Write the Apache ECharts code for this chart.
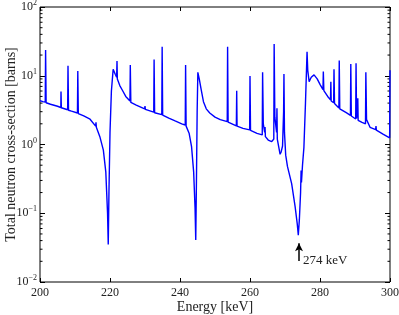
<!DOCTYPE html>
<html><head><meta charset="utf-8">
<script src="https://cdn.jsdelivr.net/npm/echarts@6/dist/echarts.min.js"></script>
<style>html,body{margin:0;padding:0;background:#fff}#c{width:399px;height:315px}</style>
</head><body><div id="c"></div>
<script>
const energy = [200.0,200.8,201.5,201.6,201.75,203,205,205.95,206.0,206.1,207.9,208.0,208.15,209,210.7,210.8,210.95,212.5,214.3,215.9,216.0,216.1,217.1,218.1,218.8,219.3,219.5,219.7,220.0,220.4,220.9,221.5,221.9,222.0,222.1,222.8,223.5,223.6,223.7,224.5,225.7,225.8,225.95,227.5,229.9,230.0,230.1,232.5,232.6,232.75,234.8,234.9,235.05,236.8,238.6,240.5,241.5,241.6,241.75,242.6,243.3,243.9,244.3,244.5,244.7,244.9,245.1,245.5,246.0,246.7,247.5,248.5,250,251.5,253.5,253.6,253.75,256.1,256.2,256.3,258,259.9,260.0,260.15,262,263.5,263.6,263.8,264.2,264.3,264.4,265.2,266.2,266.8,266.9,267.1,267.6,267.7,267.8,268.6,268.9,269.3,269.6,269.7,269.85,270.2,270.7,271.9,272.9,273.5,273.8,274.1,274.45,274.6,274.7,275.0,275.4,275.85,276.3,276.5,276.9,277.5,278.3,279.2,280.0,280.85,280.95,281.1,282.2,283.0,283.1,283.2,283.9,284.0,284.15,285.4,285.5,285.65,287.5,288.7,288.8,288.95,290.2,290.3,290.45,290.7,290.8,290.9,292,293.0,293.1,293.3,294.3,295.9,296.0,296.1,298,299.9,300];
const crossSection = [4.35,4.2,4.15,23.7,4.05,3.85,3.6,3.45,5.9,3.42,3.2,14.0,3.15,3.05,2.87,11.7,2.82,2.6,2.33,1.85,2.1,1.78,1.30,0.83,0.4,0.1,0.035,0.2,1.5,6,12.4,10.5,9.5,16.4,9,7.2,6.2,6.4,6.0,5.0,4.3,14.3,4.1,3.75,3.3,3.63,3.25,2.95,17.3,2.9,2.72,26.5,2.68,2.42,2.2,2.0,1.92,14.3,1.85,1.46,0.93,0.4,0.12,0.041,0.3,3,11.2,9.0,6.5,4.2,3.3,2.87,2.5,2.3,2.15,26.5,2.12,1.87,6.07,1.85,1.72,1.63,9.9,1.6,1.45,1.38,11.2,2.0,1.5,1.8,1.3,1.16,1.1,1.2,29,2.5,1.5,3.36,1.2,0.72,0.78,0.95,3,10.6,1.5,0.7,0.48,0.27,0.124,0.07,0.048,0.08,0.2,0.42,0.28,0.5,0.9,4,22.4,12,8.2,9.5,10.3,9.0,7.5,6.3,11.5,6.1,5.0,4.45,8.2,4.3,4.05,12.4,3.95,3.4,16.6,3.3,2.9,2.65,14.8,2.6,2.35,15.2,2.4,2.3,4.7,2.25,2.1,2.0,11.2,2.3,1.78,1.65,1.86,1.62,1.42,1.25,12];
const xTicks = [200,220,240,260,280,300];
const yTicks = [0.01,0.1,1,10,100];
const annotEnergy = 274;
const annotFrom = 0.0202, annotTo = 0.0365;
const annotText = '274 keV';

const FONT = '"Liberation Serif","DejaVu Serif",serif';
const chart = echarts.init(document.getElementById('c'));
const supLabel = v => {
  const e = Math.round(Math.log10(v));
  return '{b|10}{s|' + (e < 0 ? '\u2212' + (-e) : e) + '}';
};
chart.setOption({
  animation: false,
  grid: {left: 40, right: 9, top: 7, bottom: 33, outerBoundsMode: 'none', containLabel: false,
         show: true, borderColor: '#000', borderWidth: 1, backgroundColor: 'transparent'},
  xAxis: [{
    type: 'value', min: xTicks[0], max: xTicks[xTicks.length - 1], interval: 20,
    axisLine: {show: false}, splitLine: {show: false},
    axisTick: {inside: true, length: 4, lineStyle: {color: '#000'}},
    axisLabel: {color: '#222', fontFamily: FONT, fontSize: 12, margin: 5},
    name: 'Energy [keV]', nameLocation: 'middle', nameGap: 18, nameMoveOverlap: false,
    nameTextStyle: {color: '#222', fontFamily: FONT, fontSize: 14, verticalAlign: 'top'}
  }, {
    type: 'value', position: 'top', min: xTicks[0], max: xTicks[xTicks.length - 1], interval: 20,
    axisLine: {show: false}, splitLine: {show: false},
    axisTick: {inside: true, length: 4, lineStyle: {color: '#000'}},
    axisLabel: {show: false}
  }],
  yAxis: [{
    type: 'log', logBase: 10, min: yTicks[0], max: yTicks[yTicks.length - 1],
    axisLine: {show: false}, splitLine: {show: false},
    axisTick: {inside: true, length: 5, lineStyle: {color: '#000'}},
    axisLabel: {color: '#222', fontFamily: FONT, margin: 3, formatter: supLabel,
      rich: {b: {fontSize: 12, fontFamily: FONT, color: '#222'},
             s: {fontSize: 8, fontFamily: FONT, color: '#222', padding: [0,0,8,0]}}},
    name: 'Total neutron cross-section [barns]', nameLocation: 'middle', nameGap: 22, nameMoveOverlap: false,
    nameTextStyle: {color: '#222', fontFamily: FONT, fontSize: 14}
  }, {
    type: 'log', logBase: 10, min: yTicks[0], max: yTicks[yTicks.length - 1], position: 'right',
    axisLine: {show: false}, splitLine: {show: false},
    axisTick: {inside: true, length: 5, lineStyle: {color: '#000'}},
    axisLabel: {show: false}
  }],
  series: [{
    type: 'line', xAxisIndex: 0, yAxisIndex: 0, showSymbol: false, smooth: false,
    lineStyle: {color: '#0000ff', width: 1.4},
    data: energy.map((e, i) => [e, crossSection[i]]),
    markLine: {
      silent: true, symbol: ['none', 'arrow'], symbolSize: [6, 8],
      lineStyle: {color: '#000', width: 1.5, type: 'solid'},
      label: {show: false},
      data: [[{coord: [annotEnergy, annotFrom]}, {coord: [annotEnergy, annotTo]}]]
    }
  }]
});

// minor log ticks + annotation text
const g = [];
const x0 = chart.convertToPixel({xAxisIndex: 0}, xTicks[0]);
const x1 = chart.convertToPixel({xAxisIndex: 0}, xTicks[xTicks.length - 1]);
for (let k = -2; k < 2; k++) {
  for (let m = 2; m < 10; m++) {
    const y = chart.convertToPixel({yAxisIndex: 0}, m * Math.pow(10, k));
    g.push({type: 'line', shape: {x1: x0, y1: y, x2: x0 + 2.5, y2: y}, style: {stroke: '#000', lineWidth: 1}});
    g.push({type: 'line', shape: {x1: x1, y1: y, x2: x1 - 2.5, y2: y}, style: {stroke: '#000', lineWidth: 1}});
  }
}
const ap = chart.convertToPixel({xAxisIndex: 0, yAxisIndex: 0}, [annotEnergy, annotFrom]);
g.push({type: 'text', x: ap[0] + 4, y: ap[1], style: {text: annotText, fill: '#222', font: '13px ' + FONT, textVerticalAlign: 'middle'}});
chart.setOption({graphic: g});
</script></body></html>
